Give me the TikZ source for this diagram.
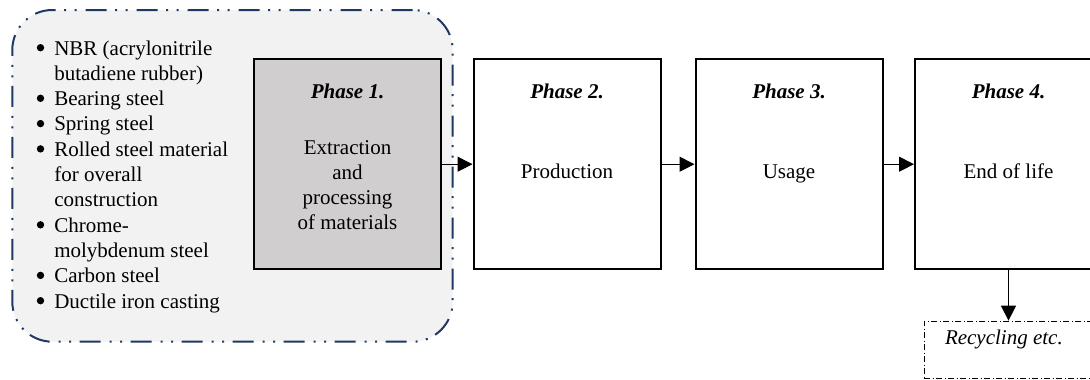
\documentclass[tikz,border=0pt]{standalone}
\usepackage{fontspec}
\setmainfont{Liberation Serif}
\usetikzlibrary{arrows.meta}
\definecolor{navy}{HTML}{1F3864}
\definecolor{lightbg}{HTML}{F2F2F2}
\definecolor{phasegray}{HTML}{D0CECE}
\tikzset{
  txt/.style={font=\fontsize{21}{25.3}\selectfont, inner sep=0pt, outer sep=0pt},
  groupbox/.style={draw=navy, fill=lightbg, line width=2pt, rounded corners=40pt,
    dash pattern=on 21pt off 9pt on 2pt off 8.5pt on 2pt off 8.5pt,
    minimum width=440.4pt, minimum height=331.7pt, inner sep=0pt},
  phasebox/.style={draw=black, line width=2pt, fill=white,
    minimum width=187pt, minimum height=210pt, inner sep=0pt},
  recbox/.style={draw=black, line width=0.9pt, dash pattern=on 6pt off 2.5pt on 1pt off 2.5pt,
    minimum width=170pt, minimum height=57pt, inner sep=0pt},
  arr/.style={line width=1pt, -{Triangle[length=15pt,width=15pt]}},
  bul/.style={fill=black},
}
\begin{document}
\begin{tikzpicture}[x=1pt,y=-1pt]
\useasboundingbox (0,0) rectangle (1090,380);
\clip (0,0) rectangle (1090,380);
% group box
\node[groupbox] (grp) at (232.5,175.85) {};
% bullet list
\node[txt, anchor=base west] (list) at (54.3,55) {%
\begin{tabular}[t]{@{}l@{}}
NBR (acrylonitrile\\
butadiene rubber)\\
Bearing steel\\
Spring steel\\
Rolled steel material\\
for overall\\
construction\\
Chrome-\\
molybdenum steel\\
Carbon steel\\
Ductile iron casting
\end{tabular}};
\foreach \r in {0,2,3,4,7,9,10}
  \fill[bul] (40.5,{47.7+25.3*\r}) circle (3.7pt);
% phase boxes
\node[phasebox, fill=phasegray] (p1) at (347.5,164.2) {};
\node[phasebox] (p2) at (567,164.2) {};
\node[phasebox] (p3) at (789,164.2) {};
\node[phasebox] (p4) at (1008.5,164.2) {};
% titles
\node[txt, anchor=base] (t1) at (347.5,98.3) {\textbf{\textit{Phase 1.}}};
\node[txt, anchor=base] (t2) at (567,98.3) {\textbf{\textit{Phase 2.}}};
\node[txt, anchor=base] (t3) at (789,98.3) {\textbf{\textit{Phase 3.}}};
\node[txt, anchor=base] (t4) at (1008.5,98.3) {\textbf{\textit{Phase 4.}}};
% bodies
\node[txt, anchor=base] (b1) at (347.5,154) {%
\begin{tabular}[t]{@{}c@{}}Extraction\\ and\\ processing\\ of materials\end{tabular}};
\node[txt, anchor=base] (b2) at (567,178) {Production};
\node[txt, anchor=base] (b3) at (789,178) {Usage};
\node[txt, anchor=base] (b4) at (1008.5,178) {End of life};
% recycling
\node[recbox] (rec) at (1009,349.6) {};
\node[txt, anchor=base west] (rect) at (945,344.3) {\textit{Recycling etc.}};
% arrows
\draw[arr] (p1.east) -- (p2.west);
\draw[arr] (p2.east) -- (p3.west);
\draw[arr] (p3.east) -- (p4.west);
\draw[arr] (p4.south) -- (p4.south |- rec.north);
\end{tikzpicture}
\end{document}
